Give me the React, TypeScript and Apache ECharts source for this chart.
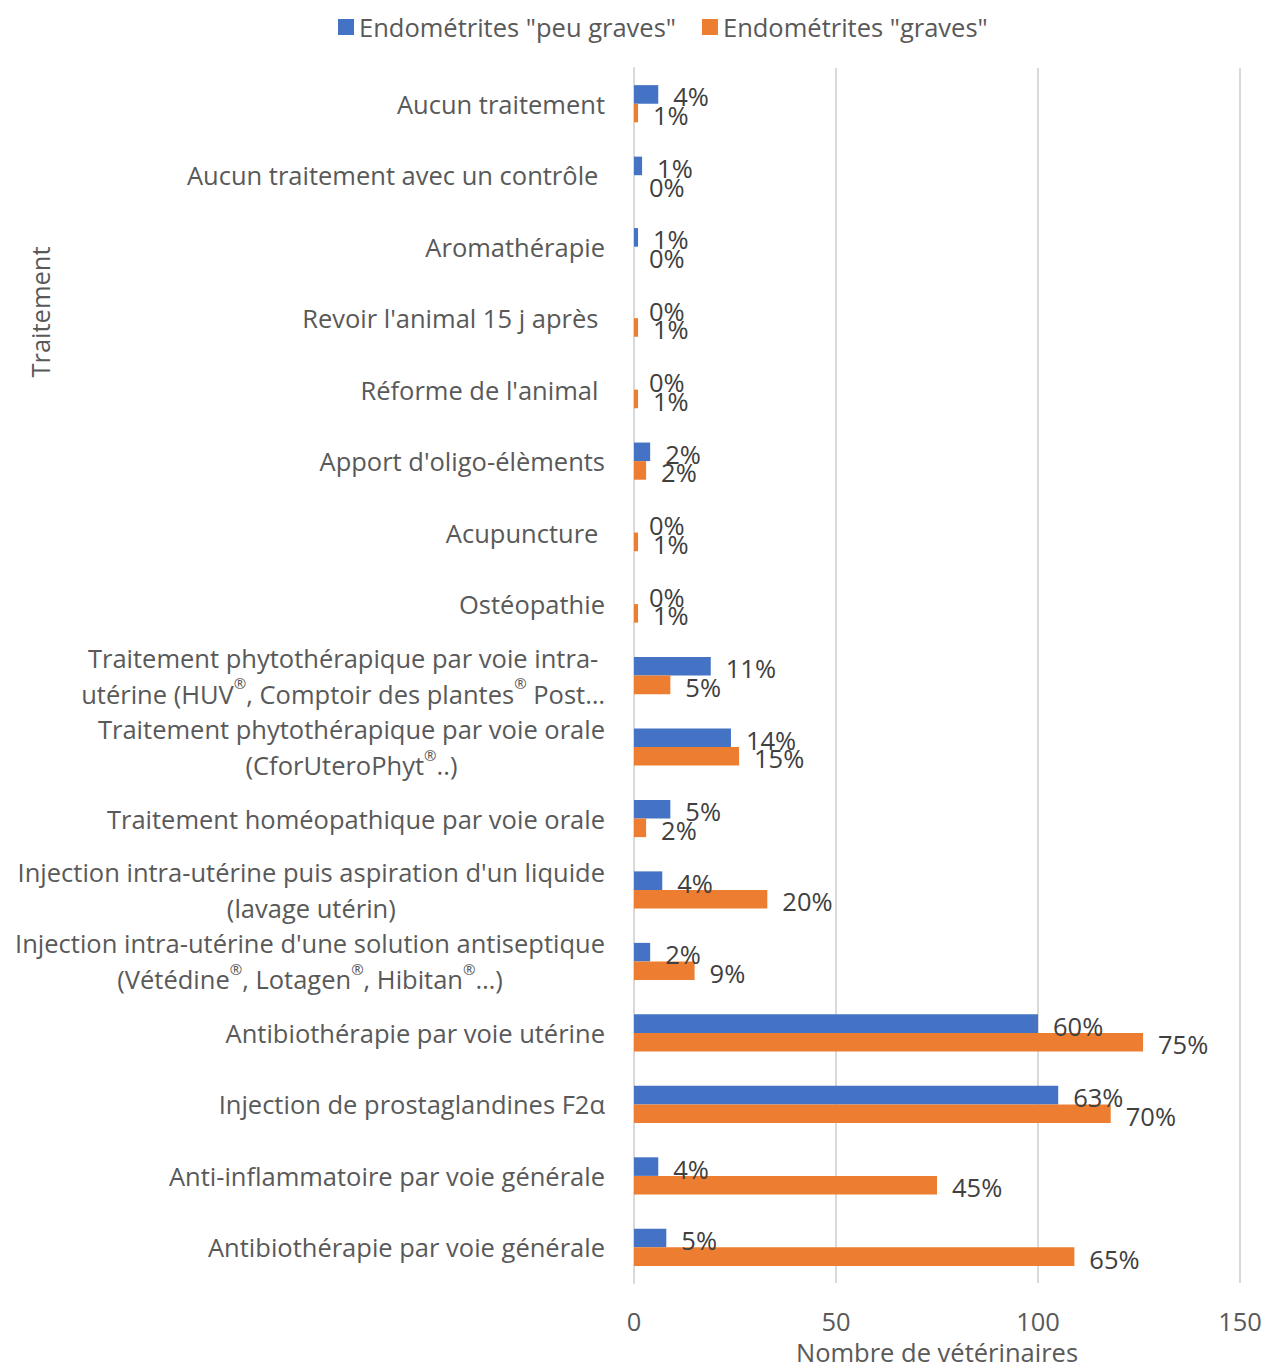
import React, { useEffect, useRef } from "react";
import * as echarts from "echarts";

const categories = [
  "Aucun traitement",
  "Aucun traitement avec un contrôle ",
  "Aromathérapie",
  "Revoir l'animal 15 j après ",
  "Réforme de l'animal ",
  "Apport d'oligo-élèments",
  "Acupuncture ",
  "Ostéopathie",
  "Traitement phytothérapique par voie intra-\nutérine (HUV®, Comptoir des plantes® Post…",
  "Traitement phytothérapique par voie orale\n(CforUteroPhyt®..)",
  "Traitement homéopathique par voie orale",
  "Injection intra-utérine puis aspiration d'un liquide\n(lavage utérin)",
  "Injection intra-utérine d'une solution antiseptique\n(Vétédine®, Lotagen®, Hibitan®…)",
  "Antibiothérapie par voie utérine",
  "Injection de prostaglandines F2α",
  "Anti-inflammatoire par voie générale",
  "Antibiothérapie par voie générale",
];

const peuGraves = [6, 2, 1, 0, 0, 4, 0, 0, 19, 24, 9, 7, 4, 100, 105, 6, 8];
const graves = [1, 0, 0, 1, 1, 3, 1, 1, 9, 26, 3, 33, 15, 126, 118, 75, 109];

const peuGravesPct = ["4%", "1%", "1%", "0%", "0%", "2%", "0%", "0%", "11%", "14%", "5%", "4%", "2%", "60%", "63%", "4%", "5%"];
const gravesPct = ["1%", "0%", "0%", "1%", "1%", "2%", "1%", "1%", "5%", "15%", "2%", "20%", "9%", "75%", "70%", "45%", "65%"];

const seriesNames = ['Endométrites "peu graves"', 'Endométrites "graves"'];
const xTicks = { min: 0, max: 150, interval: 50 };

const FONT = "'Open Sans', 'Noto Sans', sans-serif";
const FS = 25.5;

const formatCategory = (v: string) =>
  v
    .split("\n")
    .map((line) =>
      line
        .split("®")
        .map((part, i, arr) => (part ? "{c|" + part + "}" : "") + (i < arr.length - 1 ? "{r|®}" : ""))
        .join("")
    )
    .join("\n");

export default function App() {
  const ref = useRef<HTMLDivElement>(null);
  useEffect(() => {
    if (!ref.current) return;
    const chart = echarts.init(ref.current, null, { renderer: "svg" });
    const labelStyle = {
      show: true,
      position: "right",
      distance: 15,
      offset: [0, 2],
      color: "#404040",
      fontSize: FS,
      fontFamily: FONT,
    };
    chart.setOption({
      animation: false,
      backgroundColor: "#ffffff",
      textStyle: { fontFamily: FONT },
      legend: {
        top: 9,
        left: 333,
        itemWidth: 16,
        itemHeight: 16,
        itemGap: 26,
        icon: "rect",
        textStyle: { fontSize: FS, color: "#595959", fontFamily: FONT },
        data: seriesNames,
      },
      grid: { left: 634, right: 25, top: 68, bottom: 73, containLabel: false },
      xAxis: {
        type: "value",
        min: xTicks.min,
        max: xTicks.max,
        interval: xTicks.interval,
        name: "Nombre de vétérinaires",
        nameLocation: "middle",
        nameGap: 45,
        nameTextStyle: { fontSize: FS, color: "#595959", fontFamily: FONT },
        axisLine: { show: false },
        axisTick: { show: false },
        axisLabel: { fontSize: FS, color: "#595959", margin: 25, fontFamily: FONT },
        splitLine: { show: true, lineStyle: { color: "#d9d9d9", width: 2 } },
      },
      yAxis: {
        type: "category",
        inverse: true,
        data: categories,
        axisLine: { show: true, lineStyle: { color: "#d9d9d9", width: 2 } },
        axisTick: { show: false },
        axisLabel: {
          margin: 29,
          formatter: formatCategory,
          rich: {
            c: {
              align: "center",
              fontSize: FS,
              lineHeight: 36,
              color: "#595959",
              fontFamily: FONT,
            },
            r: {
              align: "center",
              verticalAlign: "top",
              fontSize: 15,
              lineHeight: 26,
              color: "#595959",
              fontFamily: FONT,
            },
          },
        },
      },
      graphic: [
        {
          type: "text",
          x: 40,
          y: 312,
          rotation: Math.PI / 2,
          style: {
            text: "Traitement",
            fontSize: FS,
            fill: "#595959",
            fontFamily: FONT,
            align: "center",
            verticalAlign: "middle",
          },
        },
      ],
      series: [
        {
          name: seriesNames[0],
          type: "bar",
          data: peuGraves,
          barGap: "0%",
          barCategoryGap: "48%",
          itemStyle: { color: "#4472C4" },
          label: { ...labelStyle, formatter: (p: any) => peuGravesPct[p.dataIndex] },
        },
        {
          name: seriesNames[1],
          type: "bar",
          data: graves,
          barGap: "0%",
          barCategoryGap: "48%",
          itemStyle: { color: "#ED7D31" },
          label: { ...labelStyle, formatter: (p: any) => gravesPct[p.dataIndex] },
        },
      ],
    });
    return () => chart.dispose();
  }, []);
  return (
    <div
      ref={ref}
      style={{ position: "absolute", left: 0, top: 0, width: 1265, height: 1370 }}
    />
  );
}
